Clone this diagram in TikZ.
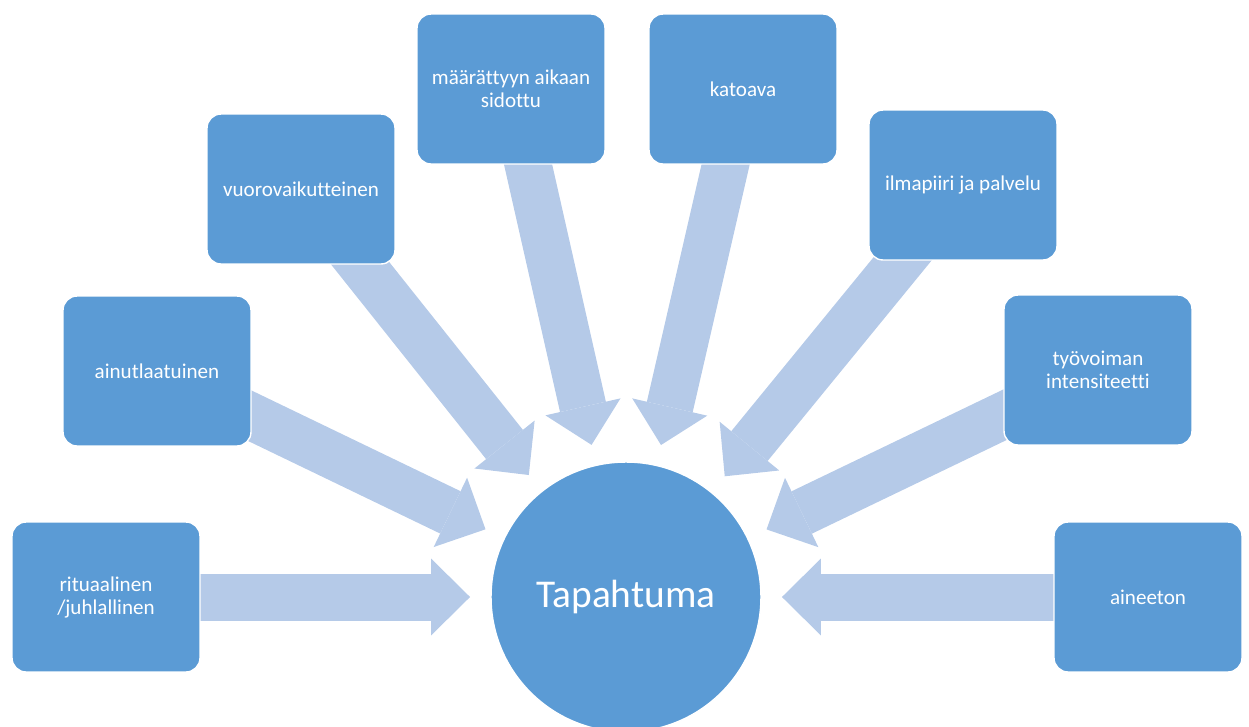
\documentclass[tikz,border=0pt]{standalone}
\usepackage{fontspec}
\setmainfont{Carlito}[Ligatures=NoCommon]
\usetikzlibrary{calc,arrows.meta,backgrounds}

\definecolor{boxblue}{HTML}{5B9BD5}
\definecolor{arrowblue}{HTML}{B5CAE8}

\tikzset{
  featbox/.style={rectangle, rounded corners=0.28cm, fill=boxblue, draw=white,
    line width=0.8pt, minimum width=3.76cm, minimum height=3cm, align=center,
    text=white, font=\fontsize{12}{13.1}\selectfont},
  hubcircle/.style={circle, fill=boxblue, draw=white, line width=0.8pt,
    minimum size=5.4cm, inner sep=0pt, text=white, font=\fontsize{22.4}{26}\selectfont},
  bigarrow/.style={draw=arrowblue, line width=0.94cm,
    -{Triangle[length=0.78cm, width=1.54cm, line width=0pt]}}
}

\begin{document}
\begin{tikzpicture}[x=0.02cm,y=-0.02cm]
\useasboundingbox (0,0) rectangle (1249,727);
\clip (0,0) rectangle (1249,727);

% Centre circle
\node[hubcircle] (hub) at (626,597) {Tapahtuma};

% Property boxes around it
\node[featbox] (rituaali) at (106,597) {rituaalinen\\/juhlallinen};
\node[featbox] (ainut) at (157,371) {ainutlaatuinen};
\node[featbox] (vuoro) at (301,189) {vuorovaikutteinen};
\node[featbox] (maara) at (511,89) {määrättyyn aikaan\\sidottu};
\node[featbox] (katoava) at (743,89) {katoava};
\node[featbox] (ilmapiiri) at (963,185) {ilmapiiri ja palvelu};
\node[featbox] (tyovoima) at (1098,370) {työvoiman\\intensiteetti};
\node[featbox] (aineeton) at (1148,597) {aineeton};

% Block arrows pointing into the circle (behind the boxes)
\begin{pgfonlayer}{background}
\foreach \b in {rituaali,ainut,vuoro,maara,katoava,ilmapiiri,tyovoima,aineeton}
  \draw[bigarrow] (\b.center) -- ($(hub.center)!3.12cm!(\b.center)$);
\end{pgfonlayer}

\end{tikzpicture}
\end{document}
